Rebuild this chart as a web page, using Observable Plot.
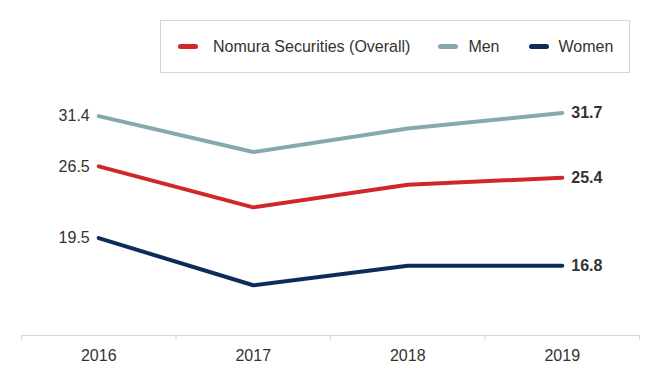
<!DOCTYPE html>
<html>
<head>
<meta charset="utf-8">
<script src="https://cdn.jsdelivr.net/npm/d3@7"></script>
<script src="https://cdn.jsdelivr.net/npm/@observablehq/plot@0.6"></script>
<style>
  body { margin: 0; background: #fff; font-family: "Liberation Sans", Arial, sans-serif; }
  #wrap { width: 660px; }
  #legend { position: relative; width: 660px; height: 80px; }
  #legend .box { position: absolute; left: 160px; top: 20px; width: 468px; height: 51px;
    border: 1px solid #d6d6d6; display: flex; align-items: center; box-sizing: content-box; }
  #legend .item { display: flex; align-items: center; font-size: 16px; color: #333; white-space: nowrap; }
  #legend .sw { width: 20px; height: 5px; border-radius: 3px; }
</style>
</head>
<body>
<div id="wrap">
  <div id="legend"><div class="box"></div></div>
  <div id="chart"></div>
</div>
<script>
const years = [2016, 2017, 2018, 2019];
const seriesNames = ["Nomura Securities (Overall)", "Men", "Women"];
const overallValues = [26.5, 22.5, 24.7, 25.4];
const menValues = [31.4, 27.9, 30.2, 31.7];
const womenValues = [19.5, 14.9, 16.8, 16.8];
const seriesColors = ["#d0282a", "#86a9ae", "#0c2d5a"];

const seriesValues = [overallValues, menValues, womenValues];
const rows = [];
seriesNames.forEach((name, si) => {
  years.forEach((yr, i) => rows.push({series: name, year: yr, value: seriesValues[si][i]}));
});
const firstRows = rows.filter(d => d.year === years[0]);
const lastRows = rows.filter(d => d.year === years[years.length - 1]);
const bandEdges = years.map(y => y - 0.5).concat([years[years.length - 1] + 0.5]);

// Legend
const box = document.querySelector("#legend .box");
const gaps = [17, 28, 29];
const swGaps = [15, 10, 10];
seriesNames.forEach((name, i) => {
  const item = document.createElement("div");
  item.className = "item";
  item.style.marginLeft = gaps[i] + "px";
  const sw = document.createElement("span");
  sw.className = "sw";
  sw.style.background = seriesColors[i];
  sw.style.marginRight = swGaps[i] + "px";
  const t = document.createElement("span");
  t.textContent = name;
  item.appendChild(sw);
  item.appendChild(t);
  box.appendChild(item);
});

const chart = Plot.plot({
  width: 660,
  height: 300,
  marginLeft: 21,
  marginRight: 21,
  marginTop: 9,
  marginBottom: 45,
  style: {fontFamily: "'Liberation Sans', Arial, sans-serif", fontSize: "16px", color: "#333", background: "#fff"},
  x: {type: "linear", domain: [years[0] - 0.5, years[years.length - 1] + 0.5], axis: null},
  y: {domain: [10, 34], axis: null},
  color: {domain: seriesNames, range: seriesColors},
  marks: [
    Plot.ruleY([10], {stroke: "#d6d6d6", strokeWidth: 1}),
    Plot.axisX(bandEdges, {tickSize: 5, tickFormat: () => "", stroke: "#d6d6d6", label: null}),
    Plot.axisX(years, {tickSize: 0, tickPadding: 14, tickFormat: d => String(d), fill: "#333", fontSize: 16, label: null}),
    Plot.line(rows, {x: "year", y: "value", z: "series", stroke: "series", strokeWidth: 4, strokeLinecap: "round", strokeLinejoin: "miter"}),
    Plot.text(firstRows, {x: "year", y: "value", text: d => d.value.toFixed(1), textAnchor: "end", dx: -9, fill: "#333", fontSize: 16}),
    Plot.text(lastRows, {x: "year", y: "value", text: d => d.value.toFixed(1), textAnchor: "start", dx: 9, fill: "#333", fontSize: 16, fontWeight: "bold"})
  ]
});
document.getElementById("chart").appendChild(chart);
</script>
</body>
</html>
